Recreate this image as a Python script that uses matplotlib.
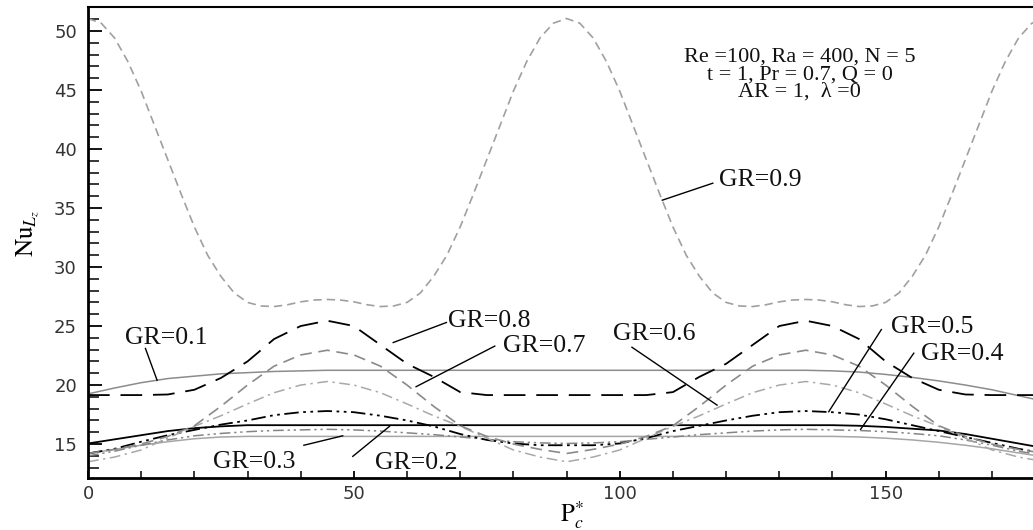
import matplotlib
matplotlib.use("Agg")
import matplotlib.pyplot as plt
from matplotlib.ticker import MultipleLocator

# ---------------- data ----------------
x5 = [0, 5, 10, 15, 20, 25, 30, 35, 40, 45, 50, 55, 60, 65, 70, 75, 80, 85, 90,
      95, 100, 105, 110, 115, 120, 125, 130, 135, 140, 145, 150, 155, 160, 165,
      170, 175, 180]

gr01 = [19.25, 19.75, 20.2, 20.55, 20.75, 20.95, 21.05, 21.15, 21.2, 21.25, 21.25,
        21.25, 21.25, 21.25, 21.25, 21.25, 21.25, 21.25, 21.25, 21.25, 21.25, 21.25,
        21.25, 21.25, 21.25, 21.25, 21.25, 21.25, 21.2, 21.1, 20.9, 20.65, 20.35,
        20.0, 19.6, 19.1, 18.6]
gr02 = [15.05, 15.4, 15.75, 16.1, 16.35, 16.5, 16.6, 16.6, 16.6, 16.6, 16.6, 16.6,
        16.6, 16.6, 16.6, 16.6, 16.6, 16.6, 16.6, 16.6, 16.6, 16.6, 16.6, 16.6, 16.6,
        16.6, 16.6, 16.6, 16.6, 16.55, 16.45, 16.3, 16.15, 15.85, 15.45, 15.05, 14.65]
gr03 = [14.2, 14.55, 14.9, 15.2, 15.45, 15.6, 15.65, 15.65, 15.65, 15.65, 15.65,
        15.65, 15.65, 15.65, 15.65, 15.65, 15.65, 15.65, 15.65, 15.65, 15.65, 15.65,
        15.65, 15.65, 15.65, 15.65, 15.65, 15.65, 15.65, 15.6, 15.5, 15.35, 15.15,
        14.9, 14.6, 14.25, 13.9]
gr04 = [14.0, 14.4, 14.9, 15.35, 15.7, 15.9, 16.05, 16.15, 16.2, 16.25, 16.2, 16.1,
        15.95, 15.8, 15.6, 15.4, 15.2, 15.1, 15.05, 15.1, 15.2, 15.4, 15.6, 15.8,
        15.95, 16.1, 16.2, 16.25, 16.2, 16.15, 16.05, 15.9, 15.7, 15.35, 14.9, 14.4,
        14.0]
gr05 = [14.2, 14.6, 15.2, 15.75, 16.2, 16.65, 17.0, 17.45, 17.7, 17.8, 17.7, 17.4,
        17.0, 16.5, 15.85, 15.35, 15.05, 14.9, 14.9, 14.9, 15.05, 15.5, 16.1, 16.55,
        17.0, 17.4, 17.7, 17.8, 17.7, 17.5, 17.1, 16.6, 16.1, 15.6, 15.1, 14.6, 14.2]
gr06 = [13.5, 13.9, 14.5, 15.5, 16.5, 17.4, 18.4, 19.35, 20.0, 20.3, 20.0, 19.35,
        18.4, 17.4, 16.5, 15.5, 14.5, 13.9, 13.5, 13.9, 14.5, 15.5, 16.5, 17.4, 18.4,
        19.35, 20.0, 20.3, 20.0, 19.35, 18.4, 17.4, 16.5, 15.5, 14.5, 13.9, 13.5]
gr07 = [14.2, 14.55, 15.0, 15.65, 16.55, 18.2, 20.0, 21.6, 22.55, 22.95, 22.55, 21.6,
        20.0, 18.2, 16.55, 15.65, 15.0, 14.55, 14.2, 14.55, 15.0, 15.65, 16.55, 18.2,
        20.0, 21.6, 22.55, 22.95, 22.55, 21.6, 20.0, 18.2, 16.55, 15.65, 15.0, 14.55,
        14.2]
gr08 = [19.15, 19.15, 19.15, 19.2, 19.6, 20.6, 22.0, 23.9, 25.0, 25.45, 25.0, 23.4,
        21.8, 20.7, 19.4, 19.15, 19.15, 19.15, 19.15, 19.15, 19.15, 19.15, 19.4, 20.7,
        21.8, 23.4, 25.0, 25.45, 25.0, 23.9, 22.0, 20.6, 19.6, 19.2, 19.15, 19.15,
        19.15]

x25 = [0, 2.5, 5, 7.5, 10, 12.5, 15, 17.5, 20, 22.5, 25, 27.5, 30, 32.5, 35, 37.5,
       40, 42.5, 45, 47.5, 50, 52.5, 55, 57.5, 60, 62.5, 65, 67.5, 70, 72.5, 75,
       77.5, 80, 82.5, 85, 87.5, 90, 92.5, 95, 97.5, 100, 102.5, 105, 107.5, 110,
       112.5, 115, 117.5, 120, 122.5, 125, 127.5, 130, 132.5, 135, 137.5, 140,
       142.5, 145, 147.5, 150, 152.5, 155, 157.5, 160, 162.5, 165, 167.5, 170,
       172.5, 175, 177.5, 180]
gr09 = [51.05, 50.65, 49.4, 47.4, 44.9, 42.0, 39.1, 36.2, 33.4, 31.0, 29.2, 27.8,
        27.0, 26.7, 26.65, 26.8, 27.05, 27.2, 27.25, 27.2, 27.05, 26.8, 26.65, 26.7,
        27.0, 27.8, 29.2, 31.0, 33.4, 36.2, 39.1, 42.0, 44.9, 47.4, 49.4, 50.65,
        51.05, 50.65, 49.4, 47.4, 44.9, 42.0, 39.1, 36.2, 33.4, 31.0, 29.2, 27.8,
        27.0, 26.7, 26.65, 26.8, 27.05, 27.2, 27.25, 27.2, 27.05, 26.8, 26.65, 26.7,
        27.0, 27.8, 29.2, 31.0, 33.4, 36.2, 39.1, 42.0, 44.9, 47.4, 49.4, 50.65,
        51.05]

labels = ["GR=0.1", "GR=0.2", "GR=0.3", "GR=0.4", "GR=0.5",
          "GR=0.6", "GR=0.7", "GR=0.8", "GR=0.9"]
# label text centre (x, y) and pointer start -> end (x0, y0, x1, y1)
label_pos = [(14.8, 24.0), (61.7, 13.4), (31.2, 13.5), (164.4, 22.6), (158.8, 24.9),
             (106.5, 24.3), (85.8, 23.3), (75.5, 25.45), (126.5, 37.4)]
pointers = [(10.8, 23.1, 13.0, 20.4), (49.8, 13.96, 56.7, 16.5),
            (40.6, 14.9, 47.9, 15.7), (155.3, 22.7, 145.3, 16.25),
            (149.2, 24.7, 139.3, 17.74), (102.3, 23.2, 118.3, 18.3),
            (76.5, 23.3, 61.7, 19.86), (67.4, 25.3, 57.4, 23.6),
            (117.5, 37.1, 108.0, 35.66)]

params = ["Re =100, Ra = 400, N = 5", "t = 1, Pr = 0.7, Q = 0", "AR = 1,  \u03bb =0"]

# ---------------- figure ----------------
plt.rcParams['mathtext.fontset'] = 'stix'
fig = plt.figure(figsize=(10.33, 5.30), dpi=100)
ax = fig.add_axes([88 / 1033, (530 - 478.3) / 530, (1033 - 88) / 1033 + 0.003,
                   (478.3 - 7.3) / 530])

series = [
    (x5, gr01, dict(color='#8c8c8c', lw=1.1, ls='-')),
    (x5, gr02, dict(color='black', lw=1.3, ls='-')),
    (x5, gr03, dict(color='#a6a6a6', lw=1.1, ls='-')),
    (x5, gr04, dict(color='#858585', lw=1.1, dashes=(7, 2.5, 1.5, 2.5, 1.5, 2.5))),
    (x5, gr05, dict(color='black', lw=1.3, dashes=(8, 2.5, 1.5, 2.5, 1.5, 2.5))),
    (x5, gr06, dict(color='#a8a8a8', lw=1.1, dashes=(7, 3, 1.5, 3))),
    (x5, gr07, dict(color='#8a8a8a', lw=1.2, dashes=(7, 4))),
    (x5, gr08, dict(color='black', lw=1.3, dashes=(12, 6))),
    (x25, gr09, dict(color='#a0a0a0', lw=1.2, dashes=(5, 3))),
]
for xs, ys, st in series:
    ax.plot(xs, ys, **st)

for lab, (tx, ty), (x0, y0, x1, y1) in zip(labels, label_pos, pointers):
    ax.plot([x0, x1], [y0, y1], color='black', lw=1.0)
    ax.text(tx, ty, lab, ha='center', va='center', fontsize=18.5,
            family='Liberation Serif', color='#111111')

ax.text(133.8, 46.3, "\n".join(params), ha='center', va='center',
        multialignment='center', fontsize=16, linespacing=0.86,
        family='Liberation Serif', color='#111111')

ax.set_xlim(0, 178.3)
ax.set_ylim(12.1, 52.0)
ax.xaxis.set_major_locator(MultipleLocator(50))
ax.xaxis.set_minor_locator(MultipleLocator(10))
ax.yaxis.set_major_locator(MultipleLocator(5))
ax.yaxis.set_minor_locator(MultipleLocator(1))
ax.set_yticks([15, 20, 25, 30, 35, 40, 45, 50])

ax.tick_params(axis='y', which='major', direction='in', length=10, width=1.3,
               pad=8, labelsize=13, labelcolor='#333333')
ax.tick_params(axis='y', which='minor', direction='in', length=8, width=1.1)
ax.tick_params(axis='x', which='major', direction='in', length=5, width=1.3,
               pad=5, labelsize=13, labelcolor='#333333')
ax.tick_params(axis='x', which='minor', direction='in', length=5, width=1.1)
for lbl in ax.get_xticklabels() + ax.get_yticklabels():
    lbl.set_family('DejaVu Sans')

ax.spines['right'].set_visible(False)
for s in ['left', 'bottom']:
    ax.spines[s].set_linewidth(2.0)
ax.spines['top'].set_linewidth(1.5)

ax.set_xlabel(r'$\mathrm{P}_c^{*}$', fontsize=18)
ax.xaxis.set_label_coords(0.51, -0.045)
ax.set_ylabel(r'$\mathrm{Nu}_{L_z}$', fontsize=18)
ax.yaxis.set_label_coords(-0.05, 0.52)

fig.savefig('out.png', dpi=100)
